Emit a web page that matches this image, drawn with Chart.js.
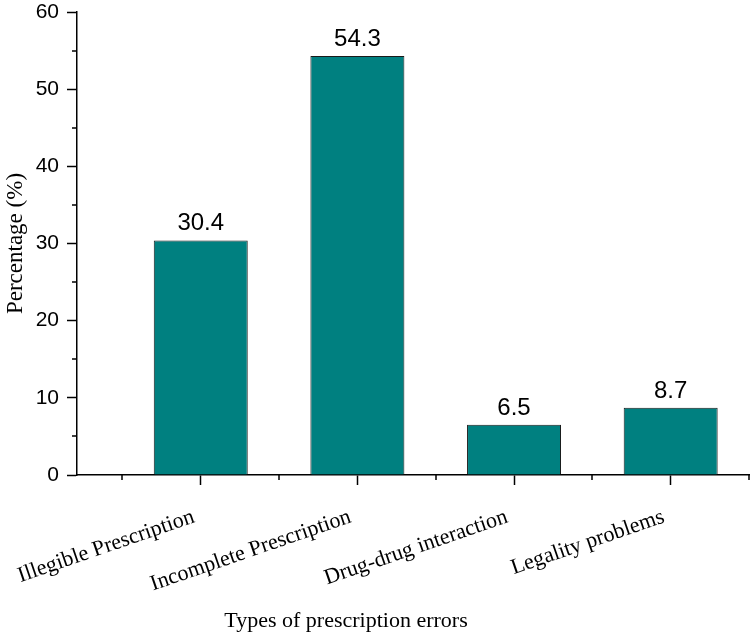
<!DOCTYPE html>
<html>
<head>
<meta charset="utf-8">
<script src="https://cdn.jsdelivr.net/npm/chart.js@4/dist/chart.umd.min.js"></script>
<style>
  html, body { margin: 0; padding: 0; background: #fff; }
  #wrap { width: 750px; height: 635px; }
</style>
</head>
<body>
<div id="wrap"><canvas id="errChart" width="750" height="635"></canvas></div>
<script>
// ── Data ──────────────────────────────────────────────────────────────
const categories = ['Illegible Prescription', 'Incomplete Prescription', 'Drug-drug interaction', 'Legality problems'];
const percentages = [30.4, 54.3, 6.5, 8.7];
const yTicks = [0, 10, 20, 30, 40, 50, 60];
const yMinorTicks = [5, 15, 25, 35, 45, 55];
const xMinorTicks = [0.5, 1.5, 2.5, 3.5, 4.5];

const SERIF = "'Liberation Serif', 'Times New Roman', serif";
const SANS  = "'Liberation Sans', Arial, sans-serif";

// ── Plugins ───────────────────────────────────────────────────────────

const valueLabels = {
    id: 'valueLabels',
    afterDatasetsDraw(chart) {
        const ctx  = chart.ctx;
        const meta = chart.getDatasetMeta(0);
        ctx.save();
        ctx.font = `24px ${SANS}`;
        ctx.fillStyle = '#000';
        ctx.textAlign = 'center';
        ctx.textBaseline = 'alphabetic';
        meta.data.forEach((bar, i) => {
            ctx.fillText(percentages[i].toFixed(1), bar.x, bar.y - 10);
        });
        ctx.restore();
    },
};

const minorTicks = {
    id: 'minorTicks',
    afterDraw(chart) {
        const { ctx, chartArea, scales } = chart;
        ctx.save();
        ctx.strokeStyle = '#000';
        ctx.lineWidth = 1.5;
        ctx.beginPath();
        yMinorTicks.forEach(v => {
            const y = Math.round(scales.y.getPixelForValue(v));
            ctx.moveTo(chartArea.left - 5, y);
            ctx.lineTo(chartArea.left, y);
        });
        xMinorTicks.forEach(v => {
            const x = Math.round(scales.x.getPixelForValue(v));
            ctx.moveTo(x, chartArea.bottom);
            ctx.lineTo(x, chartArea.bottom + 5);
        });
        ctx.stroke();

        // x axis title sits left of centre in the original
        ctx.font = `22px ${SERIF}`;
        ctx.fillStyle = '#000';
        ctx.textAlign = 'center';
        ctx.textBaseline = 'middle';
        ctx.fillText('Types of prescription errors', chartArea.left + 269, 621);
        ctx.restore();
    },
};

// ── Chart ─────────────────────────────────────────────────────────────

new Chart(document.getElementById('errChart'), {
    type: 'bar',
    data: {
        datasets: [{
            data: percentages.map((p, i) => ({ x: i + 1, y: p })),
            backgroundColor: '#008080',
            borderColor: '#1a1a1a',
            borderWidth: 1,
            barPercentage: 0.6,
            categoryPercentage: 1,
        }],
    },
    options: {
        responsive: false,
        animation: false,
        layout: { padding: { top: 12, right: 1, left: 0, bottom: 0 } },
        plugins: {
            legend: { display: false },
            tooltip: { enabled: false },
        },
        scales: {
            x: {
                type: 'linear',
                offset: false,
                min: 0.21,
                max: 4.5,
                afterBuildTicks: s => { s.ticks = categories.map((c, i) => ({ value: i + 1 })); },
                afterFit: s => { s.height = 160; s.paddingLeft = 0; s.paddingRight = 0; },
                grid: {
                    offset: false,
                    drawOnChartArea: false,
                    tickLength: 10,
                    tickWidth: 1.5,
                    tickColor: '#000',
                },
                border: { color: '#000', width: 1.5 },
                ticks: {
                    autoSkip: false,
                    minRotation: 19,
                    maxRotation: 19,
                    padding: 19,
                    labelOffset: -7,
                    color: '#000',
                    font: { family: SERIF, size: 22 },
                    callback: v => categories[v - 1],
                },
            },
            y: {
                min: 0,
                max: 60,
                afterBuildTicks: s => { s.ticks = yTicks.map(v => ({ value: v })); },
                afterFit: s => { s.width = 77; s.paddingTop = 0; s.paddingBottom = 0; },
                grid: {
                    drawOnChartArea: false,
                    tickLength: 10,
                    tickWidth: 1.5,
                    tickColor: '#000',
                },
                border: { color: '#000', width: 1.5 },
                ticks: {
                    padding: 8,
                    color: '#000',
                    font: { family: SANS, size: 21 },
                },
                title: {
                    display: true,
                    text: 'Percentage (%)',
                    color: '#000',
                    font: { family: SERIF, size: 23 },
                    padding: { top: 2, bottom: 0 },
                },
            },
        },
    },
    plugins: [valueLabels, minorTicks],
});
</script>
</body>
</html>
